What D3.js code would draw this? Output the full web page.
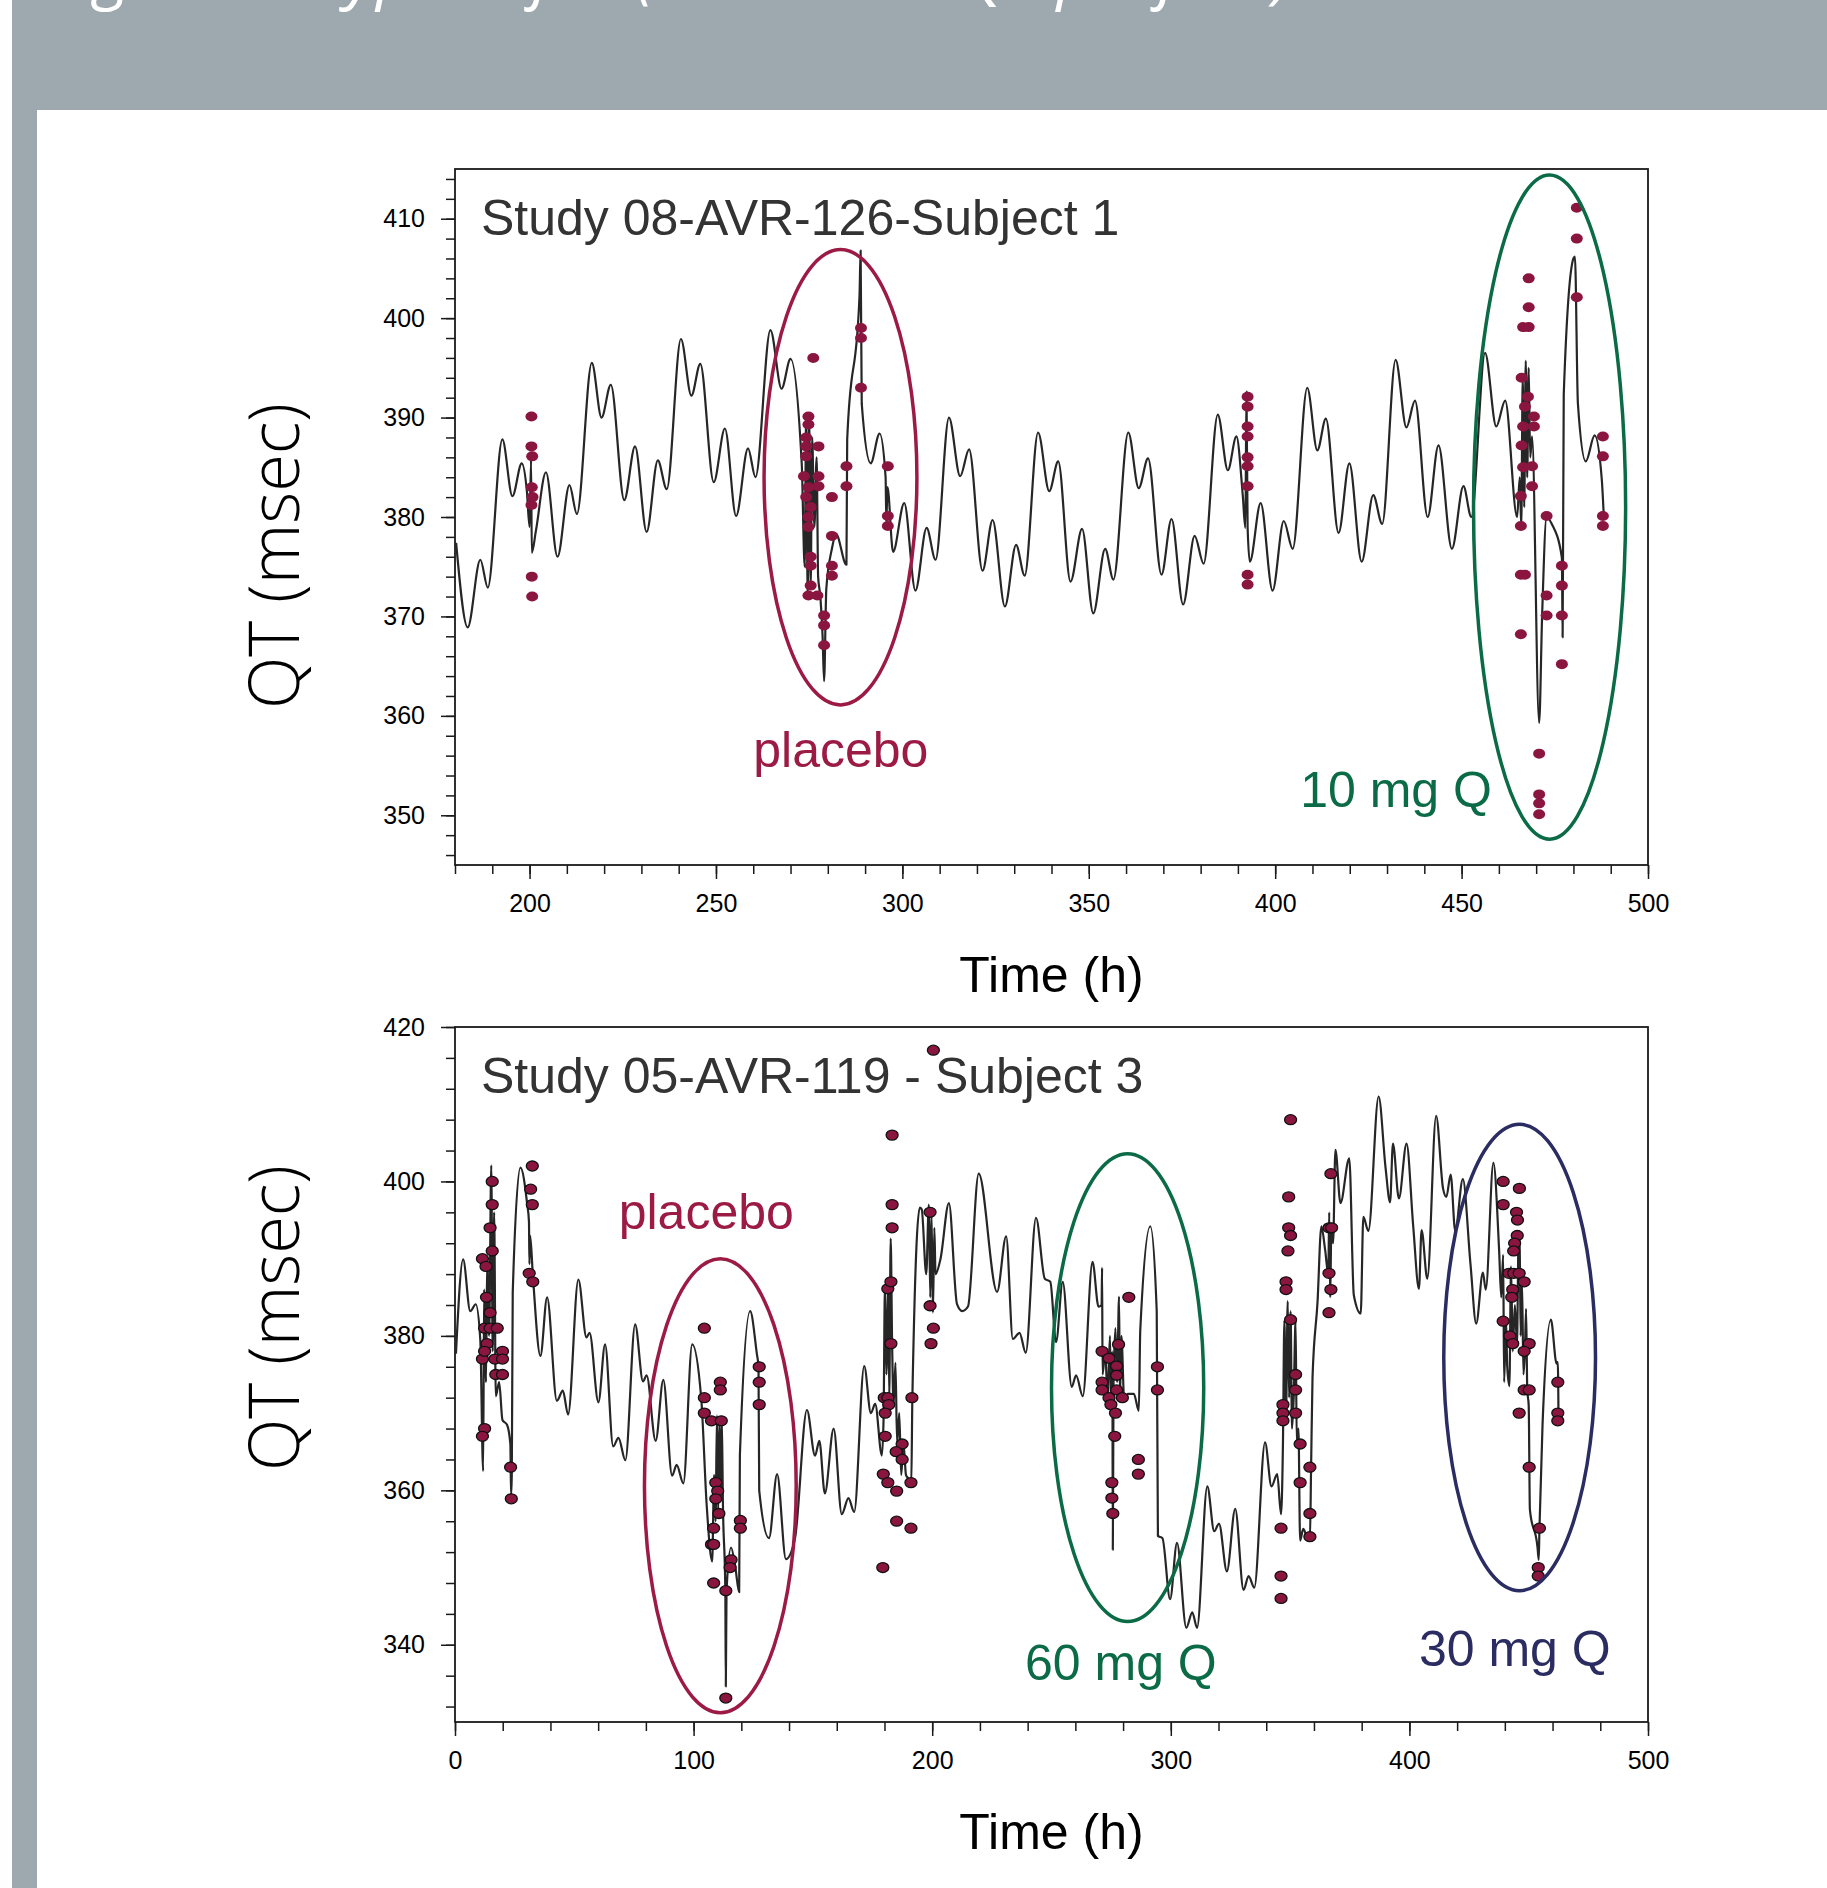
<!DOCTYPE html>
<html>
<head>
<meta charset="utf-8">
<script src="https://cdn.jsdelivr.net/npm/d3@7"></script>
<style>
  body { margin: 0; background: #fff; }
  svg { display: block; }
</style>
</head>
<body>
<script>
// ---- data (time in h, QT in msec) ----

// study 08-AVR-126, subject 1: model prediction
var topLine = [
  [180.3,377.4],[183.4,368.9],[186.8,375.7],[188.8,372.9],[192.7,387.8],[195.4,382.1],[197.9,385.4],[199.3,382.5],
  [200.0,379],[200.4,385.7],[200.6,376.4],[201.7,378.6],[204.4,384.5],[207.5,376.0],[210.7,383.2],[212.7,380.3],
  [216.7,395.5],[219.3,390.0],[221.8,393.3],[225.4,381.7],[228.3,387.1],[231.4,378.5],[234.4,385.7],[236.8,382.8],
  [240.6,397.9],[243.4,392.2],[245.8,395.4],[249.4,383.5],[252.4,388.9],[255.4,380.1],[258.6,386.9],[260.6,384.0],
  [264.6,398.8],[267.6,392.9],[270.0,395.9],[273.0,385.4],[273.8,375],[274.2,390.4],[274.6,372],[275.0,390],
  [275.4,373],[275.8,388],[276.4,379],[277.0,386],[277.4,374],[278.0,372],[278.6,368],[279.0,363.5],[279.6,372.8],
  [281.1,376.8],[282.2,378.3],[285.0,375.2],[285.2,387.8],[288.5,402.2],[288.8,406.8],[289.1,391.4],[291.5,385.4],
  [293.9,388.4],[295.5,384],[295.7,379.5],[296.0,383],[297.5,376.5],[300.5,381.4],[303.5,372.6],[306.5,378.9],
  [308.9,375.7],[312.5,390.0],[315.5,384.1],[317.9,386.8],[321.5,374.6],[324.2,379.7],[327.5,371.0],[330.5,377.2],
  [332.8,374.1],[336.4,388.5],[339.4,382.6],[341.8,385.6],[345.1,373.5],[348.2,378.8],[351.2,370.3],[354.4,376.8],
  [356.6,373.7],[360.6,388.5],[363.4,382.9],[365.9,385.9],[369.5,374.2],[372.2,379.8],[375.3,371.2],[378.4,378.1],
  [380.8,375.3],[384.6,390.3],[387.3,384.7],[389.6,388.1],[391.3,382.2],[392.0,378.9],[392.3,392.6],[392.6,379],
  [393.2,375.5],[396.1,381.4],[399.3,372.6],[402.3,379.6],[404.7,376.8],[408.6,393.0],[411.3,386.7],[413.6,389.9],
  [417.0,378.4],[419.9,385.4],[423.2,375.5],[426.3,382.2],[428.7,379.3],[432.3,395.8],[435.2,389.0],[437.5,391.7],
  [440.9,380.0],[443.8,387.2],[447.4,376.8],[450.5,383.1],[452.6,380.0],[456.3,396.5],[459.3,389.1],[461.7,391.7],
  [464.9,380.0],[465.6,384],[466.0,379],[466.4,394],[466.8,381],[467.2,395.7],[467.6,384],[468.0,395],[468.4,386],
  [468.9,388.1],[470.8,359.3],[471.6,370.1],[472.8,380.0],[474.2,379.3],[476.9,375.9],[477.1,367.9],[477.4,392.3],
  [480.0,406.0],[480.4,406.2],[481.2,391.4],[483.3,385.6],[485.7,388.2],[487.6,383.8],[488.1,380.4]
];

// study 08-AVR-126, subject 1: observed QT
var topObs = [
  [200.5,390.1],[200.5,387.1],[200.7,386.1],[200.6,383.0],[200.8,382.0],[200.5,381.2],[200.6,374.0],[200.7,372.0],
  [274.8,390.1],[274.8,389.3],[274.2,388.0],[274.2,387.1],[277.5,387.1],[274.2,386.1],[273.6,384.1],[277.5,384.1],
  [274.8,383.0],[277.5,383.1],[274.2,382.0],[275.4,381.0],[274.8,380.0],[274.8,379.0],[275.4,376.0],[275.4,375.1],
  [275.4,373.1],[274.8,372.1],[277.2,372.1],[279.0,370.1],[279.0,369.1],[279.0,367.1],[276.1,396.0],
  [281.1,382.0],[281.1,378.1],[281.1,375.1],[281.1,374.1],[285.0,385.1],[285.0,383.1],
  [288.9,399.0],[288.9,398.0],[288.9,393.0],[296.1,385.1],[296.1,380.1],[296.1,379.1],
  [392.6,392.1],[392.6,391.1],[392.6,389.1],[392.6,388.1],[392.6,386.0],[392.6,385.1],[392.6,383.1],
  [392.6,374.2],[392.6,373.2],
  [468.0,404.0],[468.0,401.1],[466.5,399.1],[468.0,399.1],[466.1,394.0],[467.8,392.1],[467.0,391.1],[466.5,389.1],
  [469.4,390.1],[469.4,389.1],[466.1,387.2],[468.9,385.1],[466.5,385.0],[468.9,383.1],[465.9,382.1],[465.9,379.1],
  [465.9,374.2],[467.0,374.2],[465.9,368.2],[472.8,380.1],[472.8,372.1],[472.8,370.1],[476.9,375.1],[476.9,373.1],
  [476.9,370.1],[476.9,365.2],[470.8,356.2],[470.8,352.1],[470.8,351.2],[470.8,350.1],[480.9,411.1],[480.9,408.0],
  [480.9,402.1],[487.9,388.1],[487.9,386.1],[487.9,380.1],[487.9,379.1]
];

// study 05-AVR-119, subject 3: model prediction
var bottomLine = [
  [0.4,377.7],[3.4,389.9],[6.4,383.2],[8.7,384.1],[10.6,379.5],[11.8,362.5],[12.2,386],[13.0,374],[13.5,390],
  [14.3,380],[15.2,402.1],[15.8,378],[16.4,396],[17.1,372.2],[18.5,374],[19.9,369.1],[21.8,368.5],[23.2,366],
  [23.5,359.3],[23.8,362],[24.2,385.6],[27.4,401.8],[30.2,397.2],[31.0,394.8],[31.2,389.3],[31.5,393],[32.6,388.0],
  [35.8,377.4],[38.6,385.0],[42.7,371.6],[45.2,372.9],[47.4,369.8],[51.7,387.3],[55.1,379.8],[56.4,380.4],
  [60.1,371.4],[62.9,378.9],[66.3,365.7],[68.5,366.8],[71.4,363.9],[75.5,381.5],[78.8,374.1],[80.3,374.9],
  [84.1,366.4],[87.3,374.3],[91.0,361.9],[92.9,363.3],[95.7,360.9],[99.4,378.9],[103.2,371.9],[105.5,358],
  [107.8,350.8],[108.6,362],[109.2,356],[109.8,369.7],[110.3,357],[110.8,369],[111.3,360],[111.8,369.5],
  [112.3,358],[113.3,347],[113.5,334.6],[113.8,347],[115.7,352.6],[117.5,350],[119.1,346.8],[119.4,364.5],
  [123.7,383.2],[126.5,377.7],[127.2,376],[127.5,360.0],[131.6,353.8],[135.0,362.1],[138.7,351.1],[142.5,353.8],
  [147.5,370.4],[150.9,364.5],[152.7,366.4],[155.0,359.6],[158.7,368.0],[162.1,356.9],[164.9,359.0],[167.3,357.2],
  [171.5,376.1],[174.3,370.0],[176.1,371.2],[178.9,364.5],[179.6,369],[180.2,386.5],[180.8,375],[181.6,387],
  [182.0,372],[182.6,392.6],[183.2,379],[183.8,371],[184.6,376.5],[185.3,366],[186.2,370],[187.0,362],[188.0,366],
  [189.0,362],[190.0,361.5],[191.2,360.5],[191.7,372.2],[194.8,396.6],[195.6,396.4],[197.5,388],[198.6,397],
  [199.2,385],[199.7,396],[200.3,383],[200.9,394],[201.4,388],[203.5,390],[207.0,397.2],[210.4,384.1],[212.6,383.2],
  [215.0,383.8],[219.5,401.0],[227.2,385.7],[231.0,392.9],[233.8,379.6],[236.6,380.4],[239.2,377.8],[243.5,395.3],
  [247.2,387.4],[249.5,387],[251.9,379.2],[254.7,387.0],[258.5,373.4],[260.3,374.9],[263.1,372.2],[267.2,389.6],
  [269.7,383.8],[271.0,384],[271.2,388.8],[271.4,375],[272.5,378],[273.5,372],[274.5,380],[275.0,371],[275.5,378],
  [275.7,352.3],[276.0,374],[276.8,381],[277.5,374],[278.3,385.1],[278.7,372],[279.3,380],[280.5,371.5],
  [282.0,372.5],[284.5,372.5],[286.6,370.3],[287.2,380.7],[291.4,394.2],[294.1,383.2],[294.6,354.1],[296.5,353.8],
  [299.7,345.9],[302.6,353.2],[306.5,342.2],[309.0,344.2],[311.0,342.2],[315.3,360.5],[318.2,354.7],[320.2,355.7],
  [323.5,349.5],[327.0,357.6],[330.5,347.1],[332.6,348.9],[335.0,347.4],[339.5,366.2],[342.2,360.5],[344.6,362.1],
  [346.2,356.9],[347.0,366],[347.6,382],[348.3,370],[349.0,384.5],[349.6,372],[350.2,383.2],[350.8,368],
  [351.5,372],[352.3,382],[352.8,366],[353.5,368],[354.2,353.5],[355.5,355],[357.0,354],[358.3,353.5],[358.8,363],
  [359.4,374.6],[361.5,384.4],[363.1,394.2],[364.7,391.1],[366.0,388],[366.4,396],[366.8,385],[367.3,394],
  [368.0,392],[369.0,404.1],[371.1,397.2],[374.8,403.0],[376.7,385.3],[379.6,382.9],[380.7,395.4],[382.8,393.6],
  [387.1,411.0],[390.0,401.8],[391.9,397.3],[393.1,404.9],[395.6,397.8],[398.8,404.9],[401.6,394.2],[404.0,386.1],
  [405.1,393.7],[407.5,387.4],[411.2,408.5],[414.1,399.1],[415.5,398],[417.3,400.9],[419.2,393.6],[422.4,400.3],
  [425.6,389.3],[428.0,381.6],[430.8,388.2],[432.0,386],[435.2,402.4],[437.6,391.1],[438.5,385],[439.3,390.5],
  [439.7,374],[440.5,382],[441.0,376],[441.9,373.5],[442.6,389],[443.3,378],[444.2,384],[445.1,379],[445.7,392],
  [446.2,393.6],[446.6,380],[447.2,387],[447.8,375],[448.4,378],[448.9,383.5],[449.4,373],[450.0,371],
  [450.5,357.5],[453.7,352.6],[454.2,351],[454.5,355],[455.8,368.5],[459.3,382.1],[461.7,376.4],[462.2,376.6],
  [462.5,369.1]
];

// study 05-AVR-119, subject 3: observed QT
var bottomObs = [
  [11.5,390.0],[13.0,389.0],[15.6,400.0],[15.6,397.0],[14.7,394.0],[15.6,391.0],[13.2,385.0],[14.7,383.0],
  [12.4,381.0],[14.7,381.0],[17.7,381.0],[13.4,379.0],[11.5,377.0],[12.4,378.0],[16.7,377.0],[19.9,378.0],
  [19.9,377.0],[17.1,375.0],[19.9,375.0],[12.4,368.0],[11.5,367.0],[23.3,363.0],[23.6,358.9],
  [32.4,402.0],[31.7,399.0],[32.4,397.0],[31.1,388.1],[32.6,387.0],
  [104.5,381.0],[104.5,372.0],[104.5,370.0],[107.5,369.0],[111.2,374.0],[111.2,373.0],[111.6,369.0],[109.3,361.0],
  [110.1,359.9],[109.3,358.9],[110.6,357.0],[108.4,355.1],[107.5,353.0],[108.4,353.0],[108.4,348.0],[115.7,351.0],
  [115.3,350.0],[113.5,347.0],[113.5,333.1],[119.6,356.1],[119.6,355.1],[127.5,376.0],[127.5,374.0],[127.5,371.1],
  [183.2,406.0],[183.2,397.0],[183.2,394.0],[181.4,386.1],[182.7,387.0],[182.7,379.0],[179.9,372.0],[181.4,372.0],
  [181.8,371.1],[180.3,370.0],[180.3,367.0],[187.4,366.0],[184.9,365.0],[187.4,364.0],[191.5,372.0],[191.1,361.0],
  [179.5,362.1],[181.4,361.0],[185.1,359.9],[185.1,356.0],[191.1,355.1],[179.3,350.0],
  [200.5,417.0],[199.1,396.0],[199.1,383.9],[200.5,381.0],[199.5,379.0],
  [282.4,385.0],[271.2,378.0],[274.1,377.1],[278.1,378.9],[271.2,374.0],[271.2,373.0],[277.3,376.1],[277.3,374.9],
  [277.3,373.0],[274.1,372.0],[279.7,372.0],[274.9,371.1],[276.8,370.0],[276.5,367.0],[275.3,361.0],[275.3,359.0],
  [275.7,357.0],[286.4,364.0],[286.4,362.1],[294.4,376.0],[294.4,373.0],
  [350.2,408.0],[349.4,398.0],[349.4,394.0],[350.2,393.0],[349.1,391.0],[348.3,387.0],[348.3,386.0],[350.2,382.1],
  [347.0,371.1],[347.0,370.0],[347.0,369.0],[352.3,375.0],[352.3,373.0],[352.3,370.0],[354.2,366.0],[354.2,361.0],
  [358.3,363.0],[358.3,357.0],[358.3,354.0],[346.2,355.1],[346.2,348.9],[346.2,346.0],
  [367.1,401.0],[366.3,394.0],[367.4,394.0],[366.3,388.1],[367.1,386.0],[366.3,383.0],
  [439.3,400.0],[446.1,399.1],[439.3,397.0],[444.9,396.0],[445.3,395.0],[445.2,393.0],[444.1,392.0],[443.7,391.0],
  [441.7,388.1],[443.7,388.1],[446.0,388.1],[448.1,387.0],[443.3,386.0],[442.9,385.0],[439.3,381.9],[442.1,380.0],
  [443.3,379.0],[450.2,379.0],[448.1,378.0],[448.1,373.0],[450.2,373.0],[446.0,370.0],[450.2,363.0],[454.5,355.1],
  [454.0,350.0],[454.0,348.9],[462.2,374.0],[462.2,370.0],[462.2,369.0]
];

// treatment periods circled on each panel (centre and half-widths in data units)
var topGroups = [
  { label: "placebo", t: 283.4, q: 384.0, dt: 20.5, dq: 22.9, labelT: 283.5, labelQ: 354.9, anchor: "middle" },
  { label: "10 mg Q", t: 473.6, q: 381.0, dt: 20.4, dq: 33.4, labelT: 406.7, labelQ: 350.8, anchor: "start" }
];
var bottomGroups = [
  { label: "placebo", t: 111.2, q: 360.6, dt: 31.8, dq: 29.4, labelT: 68.6, labelQ: 393.8, anchor: "start" },
  { label: "60 mg Q", t: 281.9, q: 373.3, dt: 31.9, dq: 30.3, labelT: 238.9, labelQ: 335.5, anchor: "start" },
  { label: "30 mg Q", t: 446.2, q: 377.2, dt: 31.8, dq: 30.2, labelT: 404.0, labelQ: 337.3, anchor: "start" }
];

var topXTicks = [200, 250, 300, 350, 400, 450, 500];
var topYTicks = [350, 360, 370, 380, 390, 400, 410];
var bottomXTicks = [0, 100, 200, 300, 400, 500];
var bottomYTicks = [340, 360, 380, 400, 420];

// ---- drawing ----
var W = 1827, H = 1888;
var groupColor = { "placebo": "#9b1b45", "10 mg Q": "#0b6b47", "60 mg Q": "#0b6b47", "30 mg Q": "#2b2d62" };
var sans = "'Liberation Sans', Arial, Helvetica, sans-serif";

var svg = d3.select("body")
  .append("svg")
  .attr("width", W)
  .attr("height", H);

// grey page frame (header band + left strip)
svg.append("rect").attr("x", 12).attr("y", 0).attr("width", W - 12).attr("height", 110).attr("fill", "#9ea9af");
svg.append("rect").attr("x", 12).attr("y", 0).attr("width", 25).attr("height", H).attr("fill", "#9ea9af");

// figure title, cut off by the top of the page
svg.append("text")
  .attr("x", 46)
  .attr("y", -4)
  .attr("fill", "#fff")
  .style("font-family", "'Open Sans', sans-serif")
  .style("font-style", "italic")
  .style("font-size", "66px")
  .text("Figure 2. Typical fits (individual QT profiles)");

function panel(o) {
  var x = d3.scaleLinear().domain(o.xDomain).range([o.left, o.right]);
  var y = d3.scaleLinear().domain(o.yDomain).range([o.bottom, o.top]);
  var g = svg.append("g");

  g.append("clipPath").attr("id", o.id)
    .append("rect")
    .attr("x", o.left).attr("y", o.top)
    .attr("width", o.right - o.left).attr("height", o.bottom - o.top);

  // minor ticks
  g.append("g")
    .attr("transform", "translate(0," + o.bottom + ")")
    .call(d3.axisBottom(x).tickValues(d3.range(o.xDomain[0], o.xDomain[1] + 0.1, o.xMinor)).tickSize(9).tickFormat(""))
    .call(s => s.select(".domain").remove());
  g.append("g")
    .attr("transform", "translate(" + o.left + ",0)")
    .call(d3.axisLeft(y).tickValues(d3.range(o.yMinorStart, o.yDomain[1] + 0.1, o.yMinor)).tickSize(9).tickFormat(""))
    .call(s => s.select(".domain").remove());

  // major ticks with labels
  var xa = g.append("g")
    .attr("transform", "translate(0," + o.bottom + ")")
    .call(d3.axisBottom(x).tickValues(o.xTicks).tickSize(14).tickPadding(15).tickFormat(d3.format("d")));
  var ya = g.append("g")
    .attr("transform", "translate(" + o.left + ",0)")
    .call(d3.axisLeft(y).tickValues(o.yTicks).tickSize(14).tickPadding(16).tickFormat(d3.format("d")));
  [xa, ya].forEach(a => {
    a.select(".domain").remove();
    a.selectAll("text").style("font-family", sans).style("font-size", "25px").attr("fill", "#000");
  });
  g.selectAll(".tick line").attr("stroke", "#1a1a1a").attr("stroke-width", 1.5);

  // frame
  g.append("rect")
    .attr("x", o.left).attr("y", o.top)
    .attr("width", o.right - o.left).attr("height", o.bottom - o.top)
    .attr("fill", "none").attr("stroke", "#1a1a1a").attr("stroke-width", 1.8);

  var plot = g.append("g").attr("clip-path", "url(#" + o.id + ")");

  // prediction line
  var line = d3.line()
    .x(d => x(d[0]))
    .y(d => y(d[1]))
    .curve(d3.curveMonotoneX);
  plot.append("path")
    .datum(o.line)
    .attr("d", line)
    .attr("fill", "none")
    .attr("stroke", "#262626")
    .attr("stroke-width", 2.2)
    .attr("stroke-linejoin", "round");

  // observations (slightly wider than tall, as in the original)
  plot.selectAll("ellipse.obs")
    .data(o.obs)
    .enter()
    .append("ellipse")
    .attr("class", "obs")
    .attr("cx", d => x(d[0]))
    .attr("cy", d => y(d[1]))
    .attr("rx", 6)
    .attr("ry", 5)
    .attr("fill", "#8a1640")
    .attr("stroke", o.dotStroke ? "#111" : "none")
    .attr("stroke-width", 1.3);

  // circled treatment periods
  plot.selectAll("ellipse.grp")
    .data(o.groups)
    .enter()
    .append("ellipse")
    .attr("class", "grp")
    .attr("cx", d => x(d.t))
    .attr("cy", d => y(d.q))
    .attr("rx", d => x(d.t + d.dt) - x(d.t))
    .attr("ry", d => y(d.q - d.dq) - y(d.q))
    .attr("fill", "none")
    .attr("stroke", d => groupColor[d.label])
    .attr("stroke-width", 3.5);

  g.selectAll("text.grp")
    .data(o.groups)
    .enter()
    .append("text")
    .attr("class", "grp")
    .attr("x", d => x(d.labelT))
    .attr("y", d => y(d.labelQ))
    .attr("text-anchor", d => d.anchor)
    .attr("fill", d => groupColor[d.label])
    .style("font-family", sans)
    .style("font-size", "50px")
    .text(d => d.label);

  // study caption
  g.append("text")
    .attr("x", o.left + 26)
    .attr("y", o.top + 66)
    .attr("fill", "#333")
    .style("font-family", sans)
    .style("font-size", "50px")
    .text(o.caption);

  // axis titles
  g.append("text")
    .attr("x", (o.left + o.right) / 2)
    .attr("y", o.bottom + 127)
    .attr("text-anchor", "middle")
    .attr("fill", "#000")
    .style("font-family", sans)
    .style("font-size", "50px")
    .text("Time (h)");
  g.append("text")
    .attr("transform", "translate(299," + o.qtMid + ") rotate(-90)")
    .attr("text-anchor", "middle")
    .attr("textLength", 306)
    .attr("lengthAdjust", "spacingAndGlyphs")
    .attr("fill", "#000")
    .style("font-family", "'Open Sans', sans-serif")
    .style("font-weight", 300)
    .style("font-size", "70px")
    .text("QT (msec)");
}

panel({
  id: "clipTop", left: 455, right: 1648, top: 169, bottom: 865,
  xDomain: [180, 500], yDomain: [345, 415],
  xMinor: 10, yMinor: 2, yMinorStart: 346,
  xTicks: topXTicks, yTicks: topYTicks,
  line: topLine, obs: topObs, groups: topGroups,
  dotStroke: false,
  caption: "Study 08-AVR-126-Subject 1", qtMid: 556
});

panel({
  id: "clipBottom", left: 455, right: 1648, top: 1027, bottom: 1722,
  xDomain: [0, 500], yDomain: [330, 420],
  xMinor: 20, yMinor: 4, yMinorStart: 332,
  xTicks: bottomXTicks, yTicks: bottomYTicks,
  line: bottomLine, obs: bottomObs, groups: bottomGroups,
  dotStroke: true,
  caption: "Study 05-AVR-119 - Subject 3", qtMid: 1318
});
</script>
</body>
</html>
